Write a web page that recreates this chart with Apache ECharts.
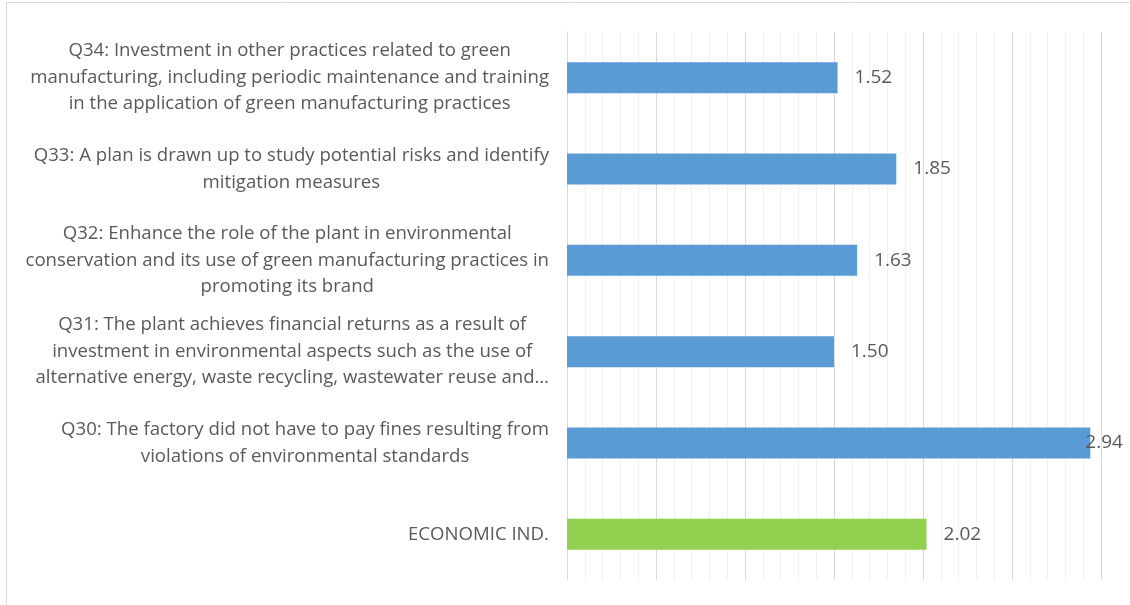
<!DOCTYPE html>
<html>
<head>
<meta charset="utf-8">
<script src="https://cdn.jsdelivr.net/npm/echarts@6/dist/echarts.min.js"></script>
<style>
  html, body { margin: 0; padding: 0; background: #fff; }
  #chart { width: 1130px; height: 605px; }
</style>
</head>
<body>
<div id="chart"></div>
<script>
// Category labels, bottom to top along the y axis
const categories = [
  'ECONOMIC IND.',
  'Q30: The factory did not have to pay fines resulting from\nviolations of environmental standards',
  'Q31: The plant achieves financial returns as a result of\ninvestment in environmental aspects such as the use of\nalternative energy, waste recycling, wastewater reuse and\u2026',
  'Q32: Enhance the role of the plant in environmental\nconservation and its use of green manufacturing practices in\npromoting its brand',
  'Q33: A plan is drawn up to study potential risks and identify\nmitigation measures',
  'Q34: Investment in other practices related to green\nmanufacturing, including periodic maintenance and training\nin the application of green manufacturing practices'
];
// Mean scores per item
const values = [2.02, 2.94, 1.50, 1.63, 1.85, 1.52];
// Which category is the overall indicator
const summaryCategory = 'ECONOMIC IND.';

const BLUE = '#5B9BD5';
const GREEN = '#92D050';
const TEXT = '#595959';
const FONT = '"Open Sans", Lato, sans-serif';
const LABEL_SIZE = 18.6;

const chart = echarts.init(document.getElementById('chart'), null, { renderer: 'canvas' });

const seriesData = values.map((v, i) => {
  const item = {
    value: v,
    itemStyle: { color: categories[i] === summaryCategory ? GREEN : BLUE }
  };
  // keep the longest bar's label inside the plot frame
  if (v === Math.max(...values)) {
    item.label = { offset: [-22, 0] };
  }
  return item;
});

chart.setOption({
  animation: false,
  graphic: [{
    type: 'rect',
    shape: { x: 6.5, y: 2.5, width: 1140, height: 620 },
    style: { fill: 'none', stroke: '#D9D9D9', lineWidth: 1 },
    silent: true
  }],
  grid: { left: 567, right: 29, top: 32, bottom: 25, containLabel: false },
  xAxis: {
    type: 'value',
    min: 0,
    max: 3,
    interval: 0.5,
    axisLabel: { show: false },
    axisLine: { show: false },
    axisTick: { show: false },
    splitLine: { show: true, lineStyle: { color: '#D9D9D9', width: 1 } },
    minorTick: { show: false, splitNumber: 5 },
    minorSplitLine: { show: true, lineStyle: { color: '#F0F0F0', width: 1 } }
  },
  yAxis: {
    type: 'category',
    data: categories,
    axisLine: { show: true, lineStyle: { color: '#D9D9D9', width: 1 } },
    axisTick: { show: false },
    splitLine: { show: false },
    axisLabel: {
      margin: 18,
      color: TEXT,
      fontFamily: FONT,
      fontSize: LABEL_SIZE,
      lineHeight: 26.5,
      interval: 0,
      formatter: (txt) => txt.split('\n').map(l => '{c|' + l + '}').join('\n'),
      rich: {
        c: { align: 'center', color: TEXT, fontFamily: FONT, fontSize: LABEL_SIZE, lineHeight: 26.5 }
      }
    }
  },
  series: [{
    type: 'bar',
    data: seriesData,
    barWidth: 31,
    label: {
      show: true,
      position: 'right',
      distance: 17,
      color: TEXT,
      fontFamily: FONT,
      fontSize: 19,
      formatter: (p) => p.value.toFixed(2)
    }
  }]
});
</script>
</body>
</html>
